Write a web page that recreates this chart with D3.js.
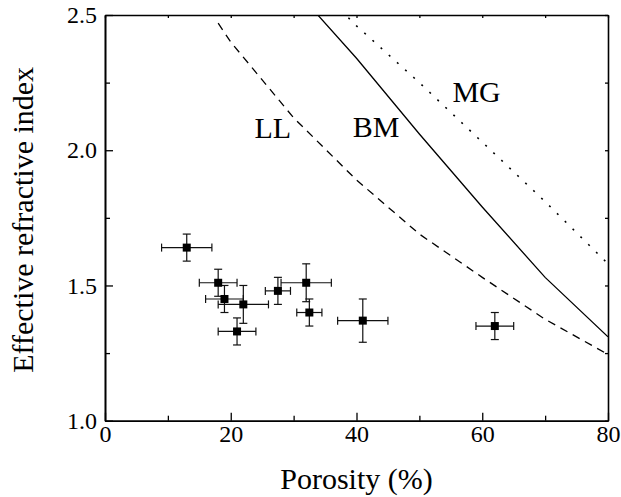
<!DOCTYPE html>
<html>
<head>
<meta charset="utf-8">
<script src="https://cdn.jsdelivr.net/npm/d3@7"></script>
<style>
  body { margin: 0; background: #fff; }
  svg text { font-family: "Liberation Serif", "Times New Roman", serif; fill: #000; }
</style>
</head>
<body>
<svg id="chart" width="621" height="497"></svg>
<script>
// measured samples (porosity %, effective index) with error bars
var porosity = [13, 18, 19, 22, 21, 27.5, 32, 32.5, 41, 62];
var nEff = [1.64, 1.51, 1.45, 1.43, 1.33, 1.48, 1.51, 1.40, 1.37, 1.35];
var porosityErr = [4, 3, 3, 4, 3, 2, 4, 2, 4, 3];
var nEffErr = [0.05, 0.05, 0.05, 0.07, 0.05, 0.05, 0.07, 0.05, 0.08, 0.05];

// model curves
var llX = [18, 20, 30, 40, 50, 60, 70, 80];
var llN = [2.47, 2.40, 2.12, 1.89, 1.69, 1.53, 1.375, 1.245];
var bmX = [30, 40, 50, 60, 70, 80];
var bmN = [2.60, 2.34, 2.06, 1.79, 1.53, 1.31];
var mgX = [30, 40, 50, 60, 70, 80];
var mgN = [2.69, 2.46, 2.25, 2.03, 1.81, 1.58];

var curveNames = ["LL", "BM", "MG"];
var labelX = [26.7, 43.1, 59.1];
var labelY = [2.045, 2.05, 2.18];

var xTicks = [0, 20, 40, 60, 80];
var xMinor = [10, 30, 50, 70];
var yTicks = [1.0, 1.5, 2.0, 2.5];
var yMinor = [1.25, 1.75, 2.25];

// plot box (note: "top" is taken by window.top, so use other names)
var plotL = 105, plotR = 608, plotT = 15, plotB = 420.7;

var svg = d3.select("#chart");
var x = d3.scaleLinear().domain([0, 80]).range([plotL, plotR]);
var y = d3.scaleLinear().domain([1.0, 2.5]).range([plotB, plotT]);

svg.append("clipPath").attr("id", "plotclip")
  .append("rect").attr("x", plotL).attr("y", plotT)
  .attr("width", plotR - plotL).attr("height", plotB - plotT);

// curves
function drawCurve(xs, ys, dash, width) {
  var line = d3.line().x(function(d) { return x(d[0]); }).y(function(d) { return y(d[1]); });
  svg.append("path")
    .datum(d3.zip(xs, ys))
    .attr("clip-path", "url(#plotclip)")
    .attr("d", line)
    .attr("fill", "none")
    .attr("stroke", "#000")
    .attr("stroke-width", width)
    .attr("stroke-dasharray", dash);
}
drawCurve(llX, llN, "8,6", 1.3);
drawCurve(bmX, bmN, null, 1.3);
drawCurve(mgX, mgN, "2,9", 1.6);

svg.selectAll(".clabel")
  .data(curveNames)
  .enter().append("text")
  .attr("x", function(d, i) { return x(labelX[i]); })
  .attr("y", function(d, i) { return y(labelY[i]); })
  .attr("text-anchor", "middle")
  .style("font-size", "30px")
  .text(function(d) { return d; });

// error bars
var pts = d3.range(porosity.length);
var cap = 4;
var eb = svg.append("g").attr("stroke", "#111").attr("stroke-width", 1.2);
pts.forEach(function(i) {
  var cx = x(porosity[i]), cy = y(nEff[i]);
  var x0 = x(porosity[i] - porosityErr[i]), x1 = x(porosity[i] + porosityErr[i]);
  var y0 = y(nEff[i] - nEffErr[i]), y1 = y(nEff[i] + nEffErr[i]);
  eb.append("line").attr("x1", x0).attr("x2", x1).attr("y1", cy).attr("y2", cy);
  eb.append("line").attr("x1", x0).attr("x2", x0).attr("y1", cy - cap).attr("y2", cy + cap);
  eb.append("line").attr("x1", x1).attr("x2", x1).attr("y1", cy - cap).attr("y2", cy + cap);
  eb.append("line").attr("x1", cx).attr("x2", cx).attr("y1", y0).attr("y2", y1);
  eb.append("line").attr("x1", cx - cap).attr("x2", cx + cap).attr("y1", y0).attr("y2", y0);
  eb.append("line").attr("x1", cx - cap).attr("x2", cx + cap).attr("y1", y1).attr("y2", y1);
});

svg.selectAll(".pt")
  .data(pts)
  .enter().append("rect")
  .attr("x", function(i) { return x(porosity[i]) - 4; })
  .attr("y", function(i) { return y(nEff[i]) - 4; })
  .attr("width", 8)
  .attr("height", 8)
  .attr("fill", "#000");

// axes
function styleAxis(g) {
  g.select(".domain").attr("stroke", "#000").attr("stroke-width", 1.6);
  g.selectAll(".tick line").attr("stroke", "#000").attr("stroke-width", 1.3);
  g.selectAll("text").style("font-size", "24px").attr("font-family", null);
}

svg.append("g").attr("transform", "translate(0," + plotB + ")")
  .call(d3.axisBottom(x).tickValues(xTicks).tickSizeInner(-8).tickSizeOuter(0).tickPadding(4).tickFormat(d3.format("d")))
  .call(styleAxis);
svg.append("g").attr("transform", "translate(0," + plotB + ")")
  .call(d3.axisBottom(x).tickValues(xMinor).tickSizeInner(-5).tickSizeOuter(0).tickFormat(""))
  .call(styleAxis);
svg.append("g").attr("transform", "translate(" + plotL + ",0)")
  .call(d3.axisLeft(y).tickValues(yTicks).tickSizeInner(-8).tickSizeOuter(0).tickPadding(8).tickFormat(d3.format(".1f")))
  .call(styleAxis);
svg.append("g").attr("transform", "translate(" + plotL + ",0)")
  .call(d3.axisLeft(y).tickValues(yMinor).tickSizeInner(-5).tickSizeOuter(0).tickFormat(""))
  .call(styleAxis);
svg.append("g").attr("transform", "translate(0," + plotT + ")")
  .call(d3.axisTop(x).tickValues(xTicks.concat(xMinor)).tickSizeInner(-3).tickSizeOuter(0).tickFormat(""))
  .call(styleAxis);
svg.append("g").attr("transform", "translate(" + plotR + ",0)")
  .call(d3.axisRight(y).tickValues(yTicks.concat(yMinor)).tickSizeInner(-3).tickSizeOuter(0).tickFormat(""))
  .call(styleAxis);

// axis titles
svg.append("text")
  .attr("x", (plotL + plotR) / 2)
  .attr("y", 489)
  .attr("text-anchor", "middle")
  .style("font-size", "30px")
  .text("Porosity (%)");

svg.append("text")
  .attr("transform", "translate(33," + ((plotT + plotB) / 2 + 2) + ") rotate(-90)")
  .attr("text-anchor", "middle")
  .style("font-size", "30px")
  .text("Effective refractive index");
</script>
</body>
</html>
